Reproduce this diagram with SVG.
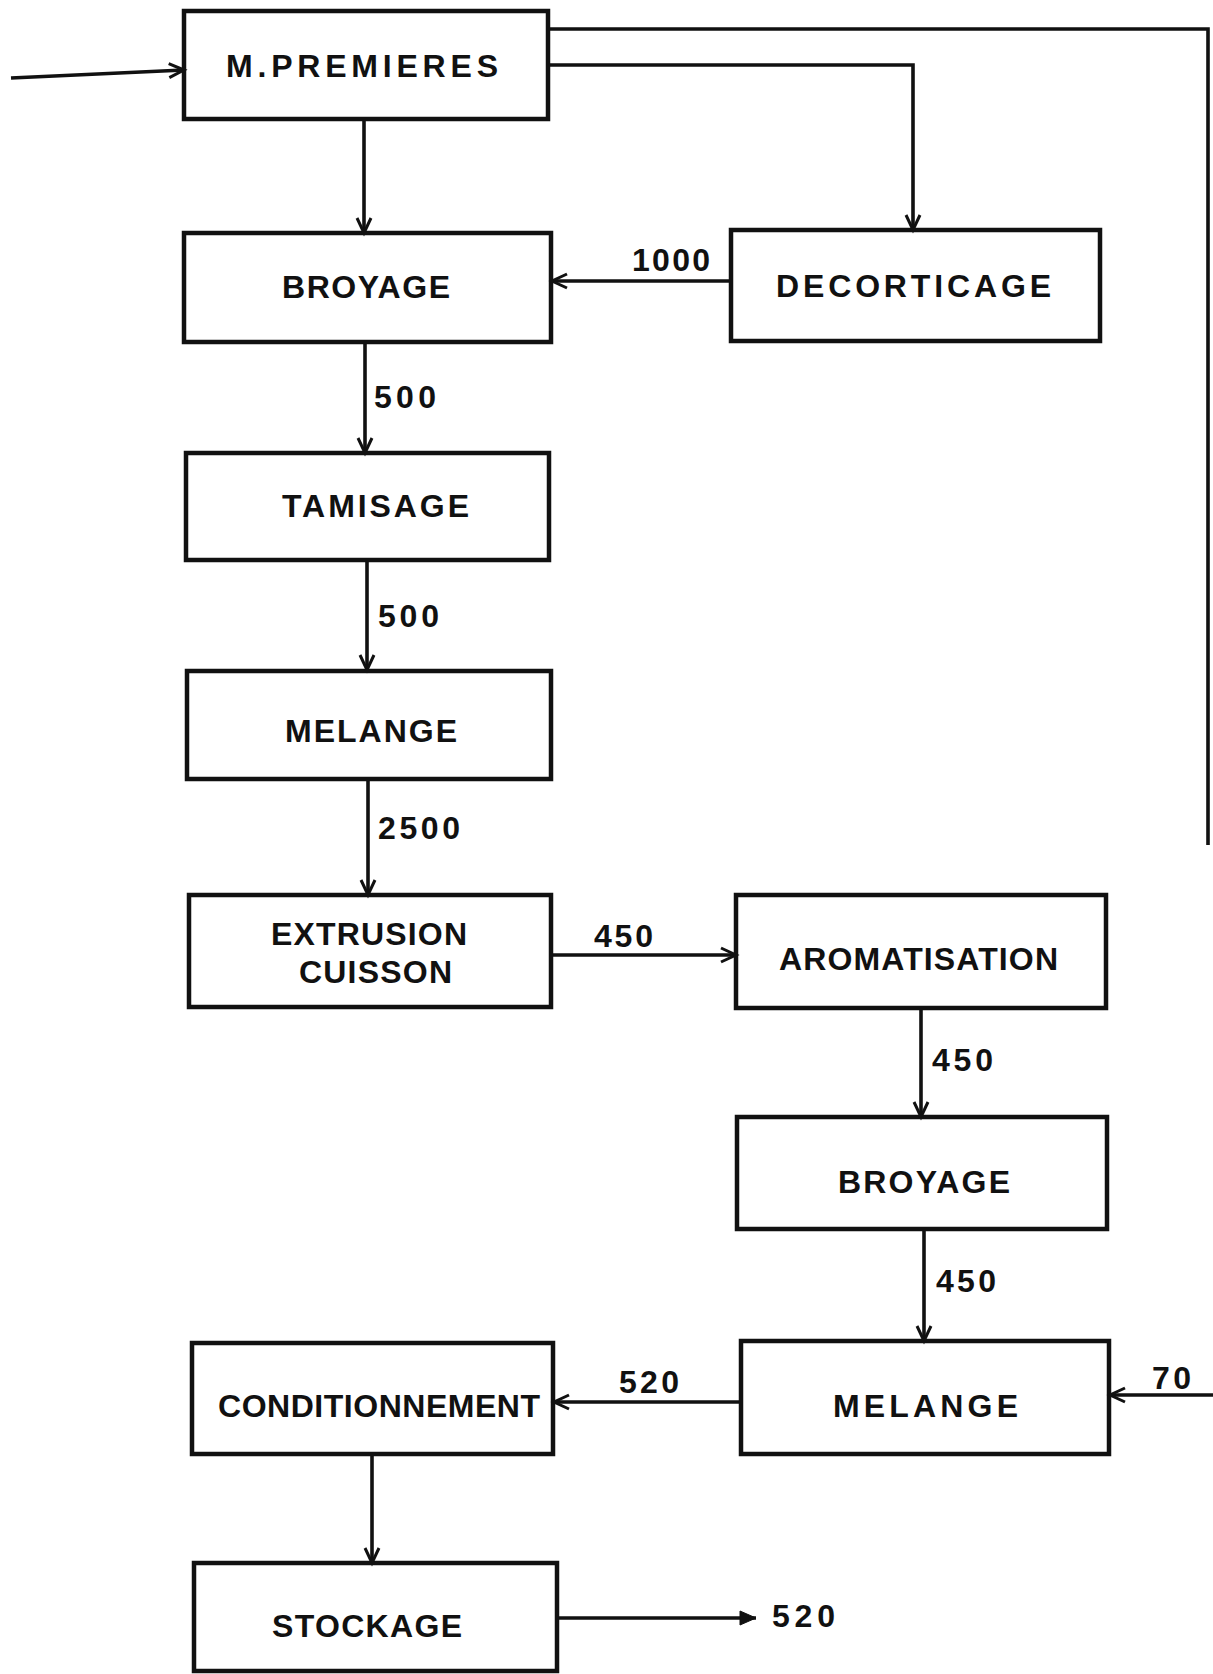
<svg xmlns="http://www.w3.org/2000/svg" width="1213" height="1674" viewBox="0 0 1213 1674">
<style>
.box{fill:none;stroke:#111;stroke-width:4.5}
.c{fill:none;stroke:#111;stroke-width:3.6}
.t{font-family:"Liberation Sans",Arial,sans-serif;font-weight:bold;font-size:32px;fill:#111}
.n{font-family:"Liberation Sans",Arial,sans-serif;font-weight:bold;font-size:32px;fill:#111}
</style>
<defs>
<marker id="arr" markerUnits="userSpaceOnUse" markerWidth="18" markerHeight="18" refX="16" refY="8" orient="auto" overflow="visible">
<path d="M1,1 L16,8 L1,15" fill="none" stroke="#111" stroke-width="3"/>
</marker>
<marker id="arrf" markerUnits="userSpaceOnUse" markerWidth="18" markerHeight="18" refX="16" refY="8" orient="auto" overflow="visible">
<path d="M0,1 L16,8 L0,15 Z" fill="#111" stroke="#111" stroke-width="1"/>
</marker>
</defs>
<rect width="1213" height="1674" fill="#fff"/>
<g id="connectors">
<path class="c" d="M11,78 L184,70" marker-end="url(#arr)"/>
<path class="c" d="M364,119 L364,233" marker-end="url(#arr)"/>
<path class="c" d="M548,29 L1208,29 L1208,845"/>
<path class="c" d="M1213,1395 L1110,1395" marker-end="url(#arr)"/>
<path class="c" d="M548,65 L913,65 L913,230" marker-end="url(#arr)"/>
<path class="c" d="M731,281 L552,281" marker-end="url(#arr)"/>
<path class="c" d="M365,342 L365,453" marker-end="url(#arr)"/>
<path class="c" d="M367,560 L367,670" marker-end="url(#arr)"/>
<path class="c" d="M368,779 L368,895" marker-end="url(#arr)"/>
<path class="c" d="M551,955 L736,955" marker-end="url(#arr)"/>
<path class="c" d="M921,1008 L921,1117" marker-end="url(#arr)"/>
<path class="c" d="M924,1229 L924,1341" marker-end="url(#arr)"/>
<path class="c" d="M741,1402 L554,1402" marker-end="url(#arr)"/>
<path class="c" d="M372,1454 L372,1563" marker-end="url(#arr)"/>
<path class="c" d="M557,1618 L756,1618" marker-end="url(#arrf)"/>
<text class="n" x="632" y="271" textLength="78" lengthAdjust="spacing">1000</text>
<text class="n" x="374" y="408" textLength="62" lengthAdjust="spacing">500</text>
<text class="n" x="378" y="627" textLength="61" lengthAdjust="spacing">500</text>
<text class="n" x="378" y="839" textLength="82" lengthAdjust="spacing">2500</text>
<text class="n" x="594" y="947" textLength="59" lengthAdjust="spacing">450</text>
<text class="n" x="932" y="1071" textLength="61" lengthAdjust="spacing">450</text>
<text class="n" x="936" y="1292" textLength="60" lengthAdjust="spacing">450</text>
<text class="n" x="619" y="1393" textLength="60" lengthAdjust="spacing">520</text>
<text class="n" x="1152" y="1389" textLength="39" lengthAdjust="spacing">70</text>
<text class="n" x="772" y="1627" textLength="63" lengthAdjust="spacing">520</text>
</g>
<g id="n-mpremieres">
<rect class="box" x="184" y="11" width="364" height="108"/>
<text class="t" x="226" y="77" textLength="272" lengthAdjust="spacing">M.PREMIERES</text>
</g>
<g id="n-broyage1">
<rect class="box" x="184" y="233" width="367" height="109"/>
<text class="t" x="282" y="298" textLength="168" lengthAdjust="spacing">BROYAGE</text>
</g>
<g id="n-decorticage">
<rect class="box" x="731" y="230" width="369" height="111"/>
<text class="t" x="776" y="297" textLength="275" lengthAdjust="spacing">DECORTICAGE</text>
</g>
<g id="n-tamisage">
<rect class="box" x="186" y="453" width="363" height="107"/>
<text class="t" x="282" y="517" textLength="187" lengthAdjust="spacing">TAMISAGE</text>
</g>
<g id="n-melange1">
<rect class="box" x="187" y="671" width="364" height="108"/>
<text class="t" x="285" y="742" textLength="172" lengthAdjust="spacing">MELANGE</text>
</g>
<g id="n-extrusion">
<rect class="box" x="189" y="895" width="362" height="112"/>
<text class="t" x="271" y="945" textLength="196" lengthAdjust="spacing">EXTRUSION</text>
<text class="t" x="299" y="983" textLength="153" lengthAdjust="spacing">CUISSON</text>
</g>
<g id="n-aromatisation">
<rect class="box" x="736" y="895" width="370" height="113"/>
<text class="t" x="779" y="970" textLength="279" lengthAdjust="spacing">AROMATISATION</text>
</g>
<g id="n-broyage2">
<rect class="box" x="737" y="1117" width="370" height="112"/>
<text class="t" x="838" y="1193" textLength="172" lengthAdjust="spacing">BROYAGE</text>
</g>
<g id="n-melange2">
<rect class="box" x="741" y="1341" width="368" height="113"/>
<text class="t" x="833" y="1417" textLength="185" lengthAdjust="spacing">MELANGE</text>
</g>
<g id="n-conditionnement">
<rect class="box" x="192" y="1343" width="361" height="111"/>
<text class="t" x="218" y="1417" textLength="322" lengthAdjust="spacing">CONDITIONNEMENT</text>
</g>
<g id="n-stockage">
<rect class="box" x="194" y="1563" width="363" height="108"/>
<text class="t" x="272" y="1637" textLength="190" lengthAdjust="spacing">STOCKAGE</text>
</g>
</svg>
